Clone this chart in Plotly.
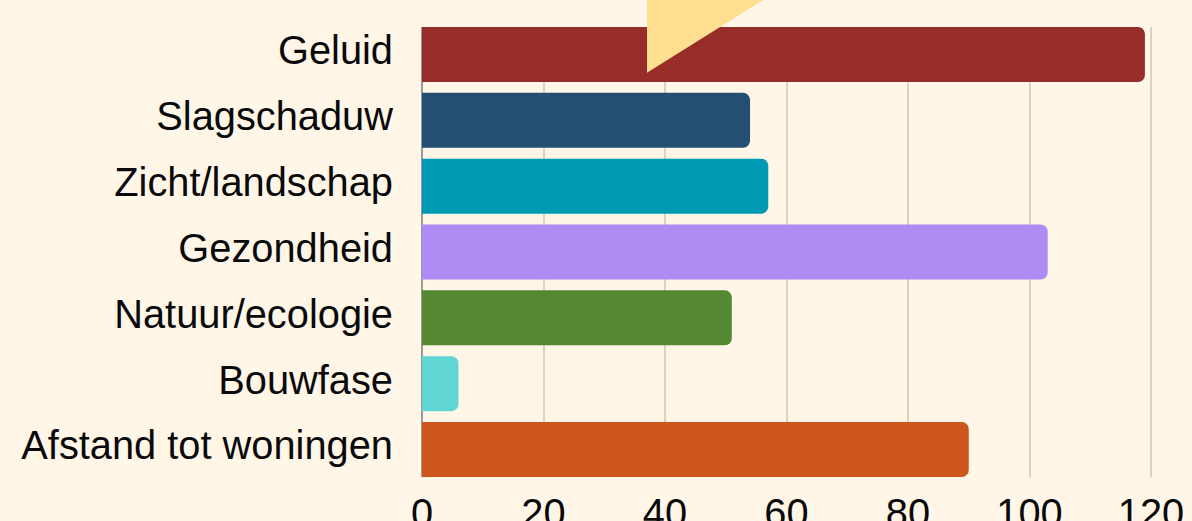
import plotly.graph_objects as go

categories = ["Geluid", "Slagschaduw", "Zicht/landschap", "Gezondheid",
              "Natuur/ecologie", "Bouwfase", "Afstand tot woningen"]
values = [119, 54, 57, 103, 51, 6, 90]
colors = ["#962D28", "#244F73", "#0099B4", "#AE8CF4", "#548832", "#5FD6D4", "#CC561C"]
x_ticks = [0, 20, 40, 60, 80, 100, 120]

BG = "#FFF6E8"
FONT = "Liberation Sans, Arial, sans-serif"
bargap = 0.165
half = (1 - bargap) / 2

fig = go.Figure(go.Bar(
    x=values, y=categories, orientation="h",
    marker=dict(color=colors, line=dict(width=0)),
    hoverinfo="x+y",
))

fig.update_layout(
    width=1192, height=521,
    paper_bgcolor=BG, plot_bgcolor=BG,
    margin=dict(l=422, r=0, t=27, b=44, autoexpand=False),
    bargap=bargap,
    barcornerradius=7,
    showlegend=False,
    font=dict(family=FONT, color="#0A0A0A", size=39.8),
    xaxis=dict(
        range=[0, 126.75], tickvals=x_ticks, ticktext=[str(v) for v in x_ticks],
        showgrid=True, gridcolor="#DCD2C2", gridwidth=1.5,
        zeroline=True, zerolinecolor="#9A9A9A", zerolinewidth=1.5,
        showline=False, ticks="", automargin=False,
        tickfont=dict(size=39.8, family=FONT, color="#0A0A0A"),
        ticklabelstandoff=9,
    ),
    yaxis=dict(
        categoryorder="array", categoryarray=categories,
        range=[len(categories) - 1 + half, -half],
        showgrid=False, zeroline=False, showline=False, ticks="",
        automargin=False, ticklabelstandoff=28, ticklabelshift=4,
        tickfont=dict(size=39.8, family=FONT, color="#0A0A0A"),
    ),
    shapes=[dict(
        type="path", xref="paper", yref="paper",
        path="M 0.2922,0.8984 L 0.2922,1.2 L 0.5739,1.2 Z",
        fillcolor="#FFDE8F", line=dict(width=0), layer="above",
    )],
)

fig.write_html(
    "out.html",
    config={"displayModeBar": False},
    post_script="document.body.style.margin='0';document.body.style.background='%s';"
                "document.documentElement.style.background='%s';document.body.style.overflow='hidden';" % (BG, BG),
)
